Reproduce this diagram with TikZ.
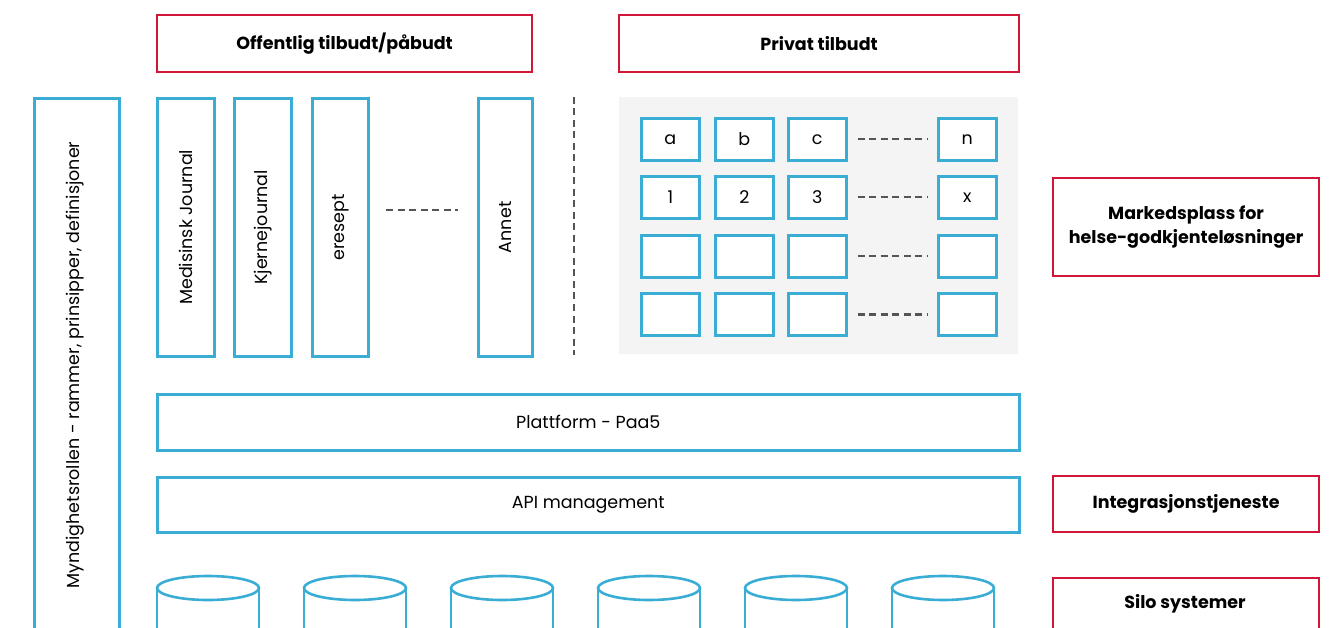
\documentclass[tikz,border=0pt]{standalone}
\usepackage{fontspec}
\setmainfont{Poppins}
\definecolor{cblue}{HTML}{3AADD5}
\definecolor{cred}{HTML}{D2163A}
\definecolor{cgray}{HTML}{F4F4F4}
\definecolor{cdash}{HTML}{555555}
\begin{document}
\begin{tikzpicture}[x=1pt,y=-1pt,
  bluebox/.style={draw=cblue, line width=2.6pt, fill=white, inner sep=0pt, anchor=north west, font=\fontsize{17.5}{21}\selectfont},
  redbox/.style={draw=cred, line width=2.2pt, fill=white, inner sep=0pt, anchor=north west, align=center, font=\bfseries\fontsize{17.5}{24}\selectfont},
  vtext/.style={rotate=90, font=\fontsize{17.5}{21}\selectfont},
  dashline/.style={draw=cdash, line width=2.4pt, dash pattern=on 7pt off 4.5pt},
  cyl/.style={draw=cblue, line width=2.6pt}]
\useasboundingbox (0,0) rectangle (1333,628);
% top headers
\node[redbox, minimum width=375, minimum height=57] (off) at (156,14) {Offentlig tilbudt/påbudt};
\node[redbox, minimum width=400, minimum height=57] (priv) at (618,14) {Privat tilbudt};
% left authority bar
\node[bluebox, minimum width=85, minimum height=560] (mynd) at (33,97) {};
\node[vtext] at (75,365) {Myndighetsrollen - rammer, prinsipper, definisjoner};
% public services
\node[bluebox, minimum width=57, minimum height=258] (med) at (156,97) {};
\node[vtext] at (med.center) {Medisinsk Journal};
\node[bluebox, minimum width=57, minimum height=258] (kj) at (233,97) {};
\node[vtext] at (kj.center) {Kjernejournal};
\node[bluebox, minimum width=56, minimum height=258] (er) at (311,97) {};
\node[vtext] at (er.center) {eresept};
\node[bluebox, minimum width=54, minimum height=258] (an) at (477,97) {};
\node[vtext] at (an.center) {Annet};
\coordinate (d1a) at (386,210);
\coordinate (d1b) at (458,210);
\draw[dashline] (d1a) -- (d1b);
\coordinate (va) at (574,97);
\coordinate (vb) at (574,355);
\draw[dashline] (va) -- (vb);
% private marketplace
\fill[cgray] (619,97) rectangle (1018,354);
\foreach \r/\y/\ta/\tb/\tc/\tn in {1/117/a/b/c/n, 2/175/1/2/3/x, 3/234/{}/{}/{}/{}, 4/292/{}/{}/{}/{}} {
  \node[bluebox, minimum width=58, minimum height=42] (g\r a) at (640,\y) {\ta};
  \node[bluebox, minimum width=58, minimum height=42] (g\r b) at (714,\y) {\tb};
  \node[bluebox, minimum width=58, minimum height=42] (g\r c) at (787,\y) {\tc};
  \node[bluebox, minimum width=58, minimum height=42] (g\r n) at (937,\y) {\tn};
  \draw[dashline] ([xshift=10pt]g\r c.east) -- ([xshift=-9pt]g\r n.west);
}
% platform layers
\node[bluebox, minimum width=862, minimum height=56] (plat) at (156,393) {Plattform - Paa5};
\node[bluebox, minimum width=862, minimum height=55] (api) at (156,476) {API management};
% silo cylinders
\foreach \cx in {208,355,502,649,796,943} {
  \draw[cyl] (\cx,588) ellipse (51 and 12);
  \draw[cyl] (\cx-51,588) -- (\cx-51,640);
  \draw[cyl] (\cx+51,588) -- (\cx+51,640);
}
% right labels
\node[redbox, minimum width=266, minimum height=98] (mark) at (1052,177) {Markedsplass for\\helse-godkjenteløsninger};
\node[redbox, minimum width=266, minimum height=56] (integ) at (1052,475) {Integrasjonstjeneste};
\node[redbox, minimum width=266, minimum height=70] (silo) at (1052,577) {};
\node[font=\bfseries\fontsize{17.5}{24}\selectfont] at (1185,604) {Silo systemer};
\end{tikzpicture}
\end{document}
